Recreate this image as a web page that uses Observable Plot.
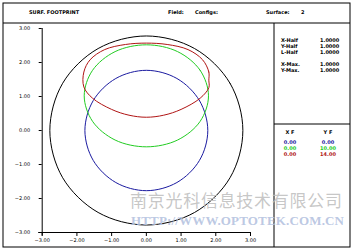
<!DOCTYPE html>
<html><head><meta charset="utf-8">
<script src="https://cdn.jsdelivr.net/npm/d3@7"></script>
<script src="https://cdn.jsdelivr.net/npm/@observablehq/plot@0.6"></script>
<style>html,body{margin:0;padding:0;background:#fff;}svg{font-family:"DejaVu Sans",sans-serif;}</style>
</head><body><div id="chart"></div>
<script>
// tick values
const xTicks = [-3, -2, -1, 0, 1, 2, 3];
const yTicks = [-3, -2, -1, 0, 1, 2, 3];
// footprint outlines (x, y in lens units)
const apertureEdge = [[2.78,0],[2.41,1.39],[1.39,2.41],[0,2.78],[-1.39,2.41],[-2.41,1.39],[-2.78,0],[-2.41,-1.39],[-1.39,-2.41],[0,-2.78],[1.39,-2.41],[2.41,-1.39]];
const field1 = [[1.77,0],[1.53,0.88],[0.88,1.53],[0,1.77],[-0.88,1.53],[-1.53,0.88],[-1.77,0],[-1.53,-0.88],[-0.88,-1.53],[0,-1.77],[0.88,-1.53],[1.53,-0.88]];
const field2 = [[1.79,1.02],[1.55,1.77],[0.9,2.32],[0,2.52],[-0.9,2.32],[-1.55,1.77],[-1.79,1.02],[-1.55,0.27],[-0.9,-0.28],[0,-0.48],[0.9,-0.28],[1.55,0.27]];
const field3 = [[1.80,1.48],[1.80,1.72],[1.62,2.08],[1.2,2.38],[0.6,2.53],[0,2.57],[-0.6,2.53],[-1.2,2.38],[-1.62,2.08],[-1.80,1.72],[-1.80,1.28],[-1.55,0.95],[-1.0,0.62],[-0.5,0.45],[0,0.39],[0.5,0.45],[1.0,0.62],[1.55,0.95],[1.80,1.26]];
const fieldColors = ["#1a1aa0", "#22cc22", "#b01414"];
const fieldX = ["0.00", "0.00", "0.00"];
const fieldY = ["0.00", "10.00", "14.00"];
const infoLabels = ["X-Half", "Y-Half", "L-Half", "", "X-Max.", "Y-Max."];
const infoValues = ["1.0000", "1.0000", "1.0000", "", "1.0000", "1.0000"];

const fmt = d3.format(".2f");
const P = d => d[0], Q = d => d[1];
const plot = Plot.plot({
  width: 352, height: 251,
  marginLeft: 41.7, marginRight: 102, marginTop: 28, marginBottom: 19,
  x: {domain: [-3, 3]},
  y: {domain: [-3, 3]},
  style: {background: "#fff", fontFamily: "DejaVu Sans", overflow: "visible"},
  marks: [
    Plot.line(apertureEdge, {x: P, y: Q, curve: "catmull-rom-closed", stroke: "#000", strokeWidth: 1}),
    Plot.line(field1, {x: P, y: Q, curve: "catmull-rom-closed", stroke: fieldColors[0], strokeWidth: 1}),
    Plot.line(field2, {x: P, y: Q, curve: "catmull-rom-closed", stroke: fieldColors[1], strokeWidth: 1}),
    Plot.line(field3, {x: P, y: Q, curve: "catmull-rom-closed", stroke: fieldColors[2], strokeWidth: 1}),
    Plot.ruleY([-3], {x1: -3.1, x2: 3, stroke: "#000", strokeWidth: 1}),
    Plot.ruleX([-3], {y1: -3.1, y2: 3, stroke: "#000", strokeWidth: 1}),
    Plot.axisX({ticks: xTicks, tickFormat: fmt, tickSize: 4, tickPadding: 2, fontSize: 5, label: null}),
    Plot.axisY({ticks: yTicks, tickFormat: fmt, tickSize: 3, tickPadding: 9, fontSize: 5, label: null})
  ]
});
document.getElementById("chart").appendChild(plot);

const svg = d3.select(plot);
const g = svg.append("g").attr("text-anchor", "start");
// frame
g.append("rect").attr("x", 3).attr("y", 3).attr("width", 347).attr("height", 244).attr("fill", "none").attr("stroke", "#000");
g.append("line").attr("x1", 3).attr("x2", 350).attr("y1", 23).attr("y2", 23).attr("stroke", "#000");
g.append("line").attr("x1", 274).attr("x2", 274).attr("y1", 23).attr("y2", 247).attr("stroke", "#000");
g.append("line").attr("x1", 274).attr("x2", 350).attr("y1", 124).attr("y2", 124).attr("stroke", "#000");
const txt = (x, y, s, opts = {}) => g.append("text").attr("x", x).attr("y", y).attr("font-size", opts.size || 5)
  .attr("font-weight", opts.weight || "bold").attr("fill", opts.fill || "#000").attr("text-anchor", opts.anchor || "start").text(s);
// header
txt(29, 14, "SURF. FOOTPRINT");
txt(168, 14, "Field:");
txt(195, 14, "Configs:");
txt(266, 14, "Surface:");
txt(301, 14, "2");
// info
infoLabels.forEach((l, i) => { if (l) { txt(281, 42 + i * 6, l); txt(320, 42 + i * 6, infoValues[i]); } });
// field table
txt(290, 134, "X F", {anchor: "middle"});
txt(328, 134, "Y F", {anchor: "middle"});
fieldColors.forEach((c, i) => {
  txt(290, 144 + i * 6, fieldX[i], {fill: c, anchor: "middle"});
  txt(328, 144 + i * 6, fieldY[i], {fill: c, anchor: "middle"});
});
// watermark
g.append("text").attr("x", 130).attr("y", 207).attr("font-size", 17).attr("fill", "#bdbdbd").attr("fill-opacity", 0.85)
  .attr("text-anchor", "start").attr("font-family", "Noto Sans CJK SC").attr("textLength", 212).text("南京光科信息技术有限公司");
g.append("text").attr("x", 131).attr("y", 225).attr("font-size", 13).attr("font-weight", "bold").attr("fill", "#b4c2e0").attr("fill-opacity", 0.9)
  .attr("text-anchor", "start").attr("font-family", "Liberation Serif").attr("textLength", 213).text("HTTP://WWW.OPTOTEK.COM.CN");
</script></body></html>
